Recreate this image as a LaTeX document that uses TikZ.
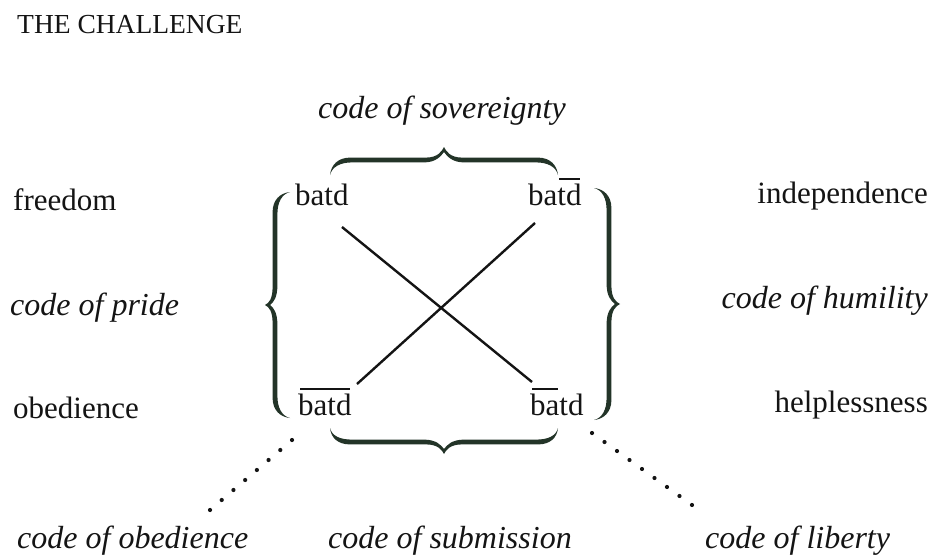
\documentclass[tikz,border=0pt]{standalone}
\usepackage{fontspec}
\setmainfont{Liberation Serif}
\newcommand\ovr[1]{\setbox0=\hbox{#1}\rlap{\hspace{0.06em}\rule[0.8em]{\dimexpr\wd0-0.12em\relax}{0.066em}}\box0}
\definecolor{bracecol}{RGB}{35,52,40}
\definecolor{inkcol}{RGB}{20,20,20}
\newcommand\mybrace[4]{%
\fill[bracecol] (0,0) .. controls (1,10) and (8,{#2+#4}) .. (20,{#2+#4}) -- ({#1/2-18},{#2+#4}) .. controls ({#1/2-6},{#2+#4}) and ({#1/2-2},{#3-4}) .. ({#1/2},#3) .. controls ({#1/2+2},{#3-4}) and ({#1/2+6},{#2+#4}) .. ({#1/2+18},{#2+#4}) -- ({#1-20},{#2+#4}) .. controls ({#1-8},{#2+#4}) and ({#1-1},10) .. (#1,0) .. controls ({#1-2},8) and ({#1-10},{#2-#4}) .. ({#1-22},{#2-#4}) -- ({#1/2+20},{#2-#4}) .. controls ({#1/2+8},{#2-#4}) and ({#1/2+3},{#3-9}) .. ({#1/2},{#3-5}) .. controls ({#1/2-3},{#3-9}) and ({#1/2-8},{#2-#4}) .. ({#1/2-20},{#2-#4}) -- (22,{#2-#4}) .. controls (10,{#2-#4}) and (2,8) .. (0,0) -- cycle;}
\begin{document}
\begin{tikzpicture}[x=1pt,y=-1pt,
  lbl/.style={inner sep=0pt, text=inkcol, font=\fontsize{31}{37}\selectfont},
  ilbl/.style={inner sep=0pt, text=inkcol, font=\fontsize{32}{38}\selectfont\itshape},
  blbl/.style={inner sep=0pt, text=inkcol, font=\fontsize{32}{38}\selectfont\itshape},
  cross/.style={draw=inkcol, line width=2.4pt},
  dotline/.style={draw=inkcol, line width=4.2pt, line cap=round, dash pattern=on 0pt off 15.4pt}]
\fill[white] (0,0) rectangle (934,557);
\useasboundingbox (0,0) rectangle (934,557);
% title
\node[inner sep=0pt, text=inkcol, font=\fontsize{27.5}{32}\selectfont, anchor=base west] (title) at (17,33) {THE CHALLENGE};
% top label
\node[ilbl, anchor=base] (sov) at (442,118) {code of sovereignty};
% left labels
\node[lbl, anchor=base west] (free) at (13,210) {freedom};
\node[ilbl, anchor=base west] (pride) at (10,315) {code of pride};
\node[lbl, anchor=base west] (obed) at (13,418) {obedience};
% right labels
\node[lbl, anchor=base east] (indep) at (928,203) {independence};
\node[ilbl, anchor=base east] (humil) at (928,308) {code of humility};
\node[lbl, anchor=base east] (help) at (928,412) {helplessness};
% corner terms
\node[lbl, anchor=base west] (tl) at (295,205) {batd};
\node[lbl, anchor=base west] (tr) at (528,205) {ba\ovr{td}};
\node[lbl, anchor=base west] (bl) at (298,415) {\ovr{batd}};
\node[lbl, anchor=base west] (br) at (530,415) {\ovr{ba}td};
% bottom labels
\node[blbl, anchor=base west] (cobed) at (17,548) {code of obedience};
\node[blbl, anchor=base west] (csub) at (328,548) {code of submission};
\node[blbl, anchor=base west] (clib) at (705,548) {code of liberty};
% braces
\begin{scope}[shift={(330,175)}, x={(1pt,0pt)}, y={(0pt,1pt)}]
  \mybrace{228}{15}{28}{2.4}
\end{scope}
\begin{scope}[shift={(330,428)}, x={(1pt,0pt)}, y={(0pt,-1pt)}]
  \mybrace{228}{14}{26}{2.4}
\end{scope}
\begin{scope}[shift={(290,192)}, x={(0pt,-1pt)}, y={(-1pt,0pt)}]
  \mybrace{226}{15}{25}{2.4}
\end{scope}
\begin{scope}[shift={(594,188)}, x={(0pt,-1pt)}, y={(1pt,0pt)}]
  \mybrace{232}{15}{26}{2.4}
\end{scope}
% diagonals
\coordinate (a1) at (342,227);
\coordinate (a2) at (532,382);
\coordinate (b1) at (357,384);
\coordinate (b2) at (535,223);
\draw[cross] (a1) -- (a2);
\draw[cross] (b1) -- (b2);
% dotted
\coordinate (d1) at (292,440);
\coordinate (d2) at (210,510);
\coordinate (e1) at (592,433);
\coordinate (e2) at (692,505);
\draw[dotline] (d1) -- (d2);
\draw[dotline] (e1) -- (e2);
\end{tikzpicture}
\end{document}
